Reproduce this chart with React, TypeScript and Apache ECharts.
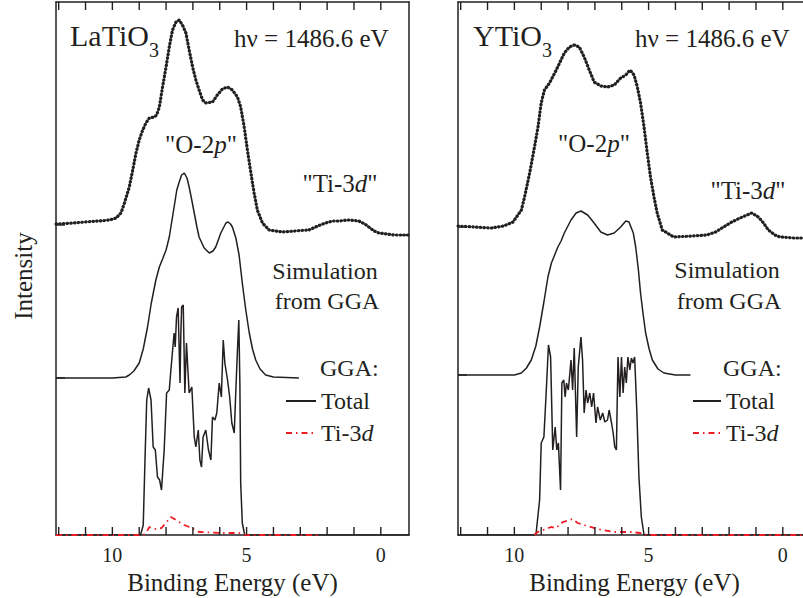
import React, { useEffect, useRef } from 'react';
import * as echarts from 'echarts';

const FONT = '"Liberation Serif", "Times New Roman", serif';
const INK = '#231f20';
const RED = '#ed1c24';

// Binding energy axis
const E_MIN = -1.05;
const E_MAX = 12.1;
const I_MAX = 533;
const xTickValues = [0, 1, 2, 3, 4, 5, 6, 7, 8, 9, 10, 11, 12];
const xLabelValues = [0, 5, 10];

// ---------- LaTiO3 ----------
const laXpsE = [12.1, 11.5, 11.0, 10.5, 10.1, 9.86, 9.68, 9.55, 9.37, 9.24, 9.12, 9.0, 8.87, 8.75, 8.62, 8.44, 8.35, 8.25, 8.13, 8.0, 7.88, 7.76, 7.63, 7.51, 7.39, 7.26, 7.14, 7.01, 6.89, 6.77, 6.64, 6.52, 6.27, 6.09, 5.9, 5.71, 5.53, 5.34, 5.22, 5.09, 4.97, 4.84, 4.72, 4.6, 4.41, 4.16, 3.67, 3.2, 2.68, 2.35, 2.06, 1.8, 1.56, 1.2, 0.82, 0.6, 0.45, 0.25, 0.07, -0.5, -1.05];
const laXpsI = [311, 312, 313, 314, 315, 317, 322, 332, 348, 365, 382, 395, 405, 412, 417, 418, 420, 428, 448, 468, 488, 505, 513, 515, 510, 502, 485, 468, 455, 445, 435, 432, 433, 440, 446, 448, 445, 438, 428, 408, 385, 362, 342, 325, 312, 305, 303, 304, 305, 309, 312, 314, 314, 315, 314, 311, 308, 304, 302, 300, 300];

const laSimE = [12.1, 10.0, 9.5, 9.37, 9.2, 9.0, 8.85, 8.69, 8.55, 8.38, 8.25, 8.13, 8.0, 7.88, 7.76, 7.7, 7.6, 7.51, 7.42, 7.32, 7.22, 7.14, 7.05, 6.95, 6.85, 6.77, 6.58, 6.39, 6.25, 6.15, 5.96, 5.77, 5.69, 5.6, 5.53, 5.4, 5.28, 5.16, 5.03, 4.9, 4.78, 4.66, 4.5, 4.29, 4.0, 3.05];
const laSimI = [157, 157, 158, 160, 164, 172, 186, 208, 232, 255, 268, 276, 285, 298, 318, 328, 345, 353, 360, 362, 357, 348, 336, 322, 308, 298, 287, 282, 284, 288, 302, 312, 313, 311, 308, 297, 280, 252, 225, 202, 186, 175, 166, 160, 158, 157];

const laTotE = [12.1, 8.95, 8.85, 8.78, 8.72, 8.65, 8.56, 8.48, 8.4, 8.32, 8.24, 8.17, 8.07, 7.98, 7.88, 7.82, 7.7, 7.66, 7.61, 7.55, 7.48, 7.45, 7.42, 7.36, 7.3, 7.24, 7.14, 7.04, 6.95, 6.89, 6.8, 6.74, 6.68, 6.62, 6.52, 6.42, 6.33, 6.27, 6.18, 6.11, 6.02, 5.94, 5.87, 5.81, 5.71, 5.63, 5.55, 5.46, 5.4, 5.34, 5.29, 5.25, 5.22, 5.16, 5.07, -1.05];
const laTotI = [0, 0, 10, 80, 135, 147, 135, 88, 85, 58, 55, 45, 85, 142, 145, 165, 202, 188, 218, 227, 152, 200, 228, 230, 142, 192, 142, 148, 98, 88, 105, 75, 68, 98, 105, 85, 75, 118, 115, 122, 152, 138, 195, 172, 155, 138, 112, 102, 145, 185, 215, 152, 52, 12, 0, 0];

const laTiE = [12.1, 8.85, 8.75, 8.62, 8.38, 8.17, 7.82, 7.51, 7.32, 7.14, 6.77, 5.9, 5.28, 5.03, 2.3];
const laTiI = [0, 0, 2, 8, 6, 7, 18, 13, 10, 8, 3, 2, 2, 0, 0];

// ---------- YTiO3 ----------
const yXpsE = [12.1, 11.5, 10.85, 10.4, 10.05, 9.74, 9.62, 9.43, 9.25, 9.12, 9.0, 8.88, 8.69, 8.44, 8.14, 7.95, 7.77, 7.58, 7.4, 7.21, 7.03, 6.78, 6.53, 6.28, 6.04, 5.85, 5.69, 5.54, 5.42, 5.3, 5.17, 5.05, 4.93, 4.8, 4.68, 4.49, 4.06, 3.4, 2.83, 2.5, 2.21, 1.9, 1.59, 1.16, 0.91, 0.72, 0.54, 0.3, 0.11, -0.4, -1.05];
const yXpsI = [309, 308, 307, 309, 313, 325, 338, 362, 388, 408, 432, 445, 452, 465, 482, 488, 490, 488, 478, 465, 453, 449, 448, 450, 457, 460, 465, 460, 448, 432, 408, 382, 358, 338, 322, 305, 298, 299, 300, 303, 308, 313, 317, 322, 318, 312, 305, 300, 298, 297, 297];

const ySimE = [12.1, 10.0, 9.74, 9.55, 9.37, 9.2, 9.06, 8.9, 8.75, 8.62, 8.5, 8.38, 8.26, 8.14, 7.89, 7.7, 7.52, 7.27, 7.03, 6.78, 6.53, 6.28, 6.04, 5.85, 5.73, 5.57, 5.48, 5.38, 5.3, 5.2, 5.11, 4.98, 4.86, 4.65, 4.43, 4.0, 3.44];
const ySimI = [160, 160, 162, 167, 175, 189, 208, 233, 258, 272, 280, 288, 294, 302, 315, 322, 324, 320, 312, 303, 300, 302, 308, 314, 313, 302, 288, 265, 242, 220, 202, 186, 175, 166, 162, 160, 160];

const yTotE = [12.1, 9.25, 9.19, 9.06, 9.0, 8.9, 8.81, 8.73, 8.65, 8.57, 8.48, 8.42, 8.36, 8.28, 8.23, 8.16, 8.11, 8.06, 7.99, 7.89, 7.83, 7.77, 7.68, 7.62, 7.52, 7.46, 7.4, 7.33, 7.27, 7.19, 7.12, 7.05, 6.96, 6.9, 6.8, 6.71, 6.63, 6.53, 6.47, 6.38, 6.32, 6.26, 6.2, 6.14, 6.07, 6.01, 5.95, 5.89, 5.83, 5.77, 5.7, 5.64, 5.58, 5.52, 5.44, 5.36, 5.27, 5.17, -1.05];
const yTotI = [0, 0, 2, 35, 92, 98, 145, 190, 178, 85, 108, 85, 92, 45, 152, 155, 138, 152, 145, 175, 145, 187, 98, 168, 198, 175, 122, 145, 132, 142, 128, 142, 112, 128, 115, 122, 113, 115, 125, 112, 102, 88, 85, 178, 138, 178, 142, 168, 152, 178, 165, 177, 172, 178, 125, 58, 18, 0, 0];

const yTiE = [9.25, 9.13, 8.63, 8.44, 8.19, 7.83, 7.64, 7.4, 6.9, 6.28, 5.67, 5.3, 5.05, -1.05];
const yTiI = [0, 3, 8, 7, 13, 16, 12, 10, 6, 3, 3, 2, 0, 0];

// baseline markers on the intensity axes
const laYTicksLeft = [157, 310];
const laYTicksRight = [300];
const yYTicksLeft = [160, 308];

const zip = (xs: number[], ys: number[]) => xs.map((x, i) => [x, ys[i]]);

// inward tick marks, drawn as thin rect symbols placed through the axes' scales
const TICK_LEN = 8;
const tickMarks = (axis: number, data: number[][], size: number[], offset: number[]) => ({
  type: 'scatter',
  xAxisIndex: axis,
  yAxisIndex: axis,
  data,
  symbol: 'rect',
  symbolSize: size,
  symbolOffset: offset,
  clip: false,
  silent: true,
  z: 6,
  itemStyle: { color: INK, opacity: 1 },
  emphasis: { disabled: true },
});

const tickSeriesFor = (axis: number, left: number[], right: number[]) => [
  tickMarks(axis, xTickValues.map((v) => [v, 0]), [1.4, TICK_LEN], [0, -TICK_LEN / 2]),
  tickMarks(axis, xTickValues.map((v) => [v, I_MAX]), [1.4, TICK_LEN], [0, TICK_LEN / 2]),
  tickMarks(axis, left.map((v) => [E_MAX, v]), [TICK_LEN + 1, 1.4], [(TICK_LEN + 1) / 2, 0]),
  tickMarks(axis, right.map((v) => [E_MIN, v]), [TICK_LEN + 1, 1.4], [-(TICK_LEN + 1) / 2, 0]),
];

const xAxisBase = (gridIndex: number, position: 'bottom' | 'top', labels: boolean) => ({
  type: 'value',
  gridIndex,
  position,
  min: E_MIN,
  max: E_MAX,
  inverse: true,
  axisLine: { show: true, onZero: false, lineStyle: { color: INK, width: 1.5 } },
  axisTick: { show: false },
  axisLabel: labels
    ? { show: true, customValues: xLabelValues, color: INK, fontFamily: FONT, fontSize: 20, margin: 10 }
    : { show: false },
  splitLine: { show: false },
  name: labels ? 'Binding Energy (eV)' : '',
  nameLocation: 'middle',
  nameGap: 33,
  nameTextStyle: { color: INK, fontFamily: FONT, fontSize: 25 },
});

const yAxisBase = (gridIndex: number, position: 'left' | 'right') => ({
  type: 'value',
  gridIndex,
  position,
  min: 0,
  max: I_MAX,
  axisLine: { show: true, onZero: false, lineStyle: { color: INK, width: 1.5 } },
  axisTick: { show: false },
  axisLabel: { show: false },
  splitLine: { show: false },
});

const richItalic = (size: number) => ({
  i: { fontStyle: 'italic', fontSize: size, fontFamily: FONT, fill: INK },
});

const txt = (x: number, y: number, text: string, size: number, align = 'left', rich?: any, extra: any = {}) => ({
  type: 'text',
  x,
  y,
  ...extra,
  style: {
    text,
    fill: INK,
    fontSize: size,
    fontFamily: FONT,
    align,
    verticalAlign: 'middle',
    ...(rich ? { rich } : {}),
  },
});

const formula = (x: number, main: string) => ({
  type: 'text',
  x,
  y: 20,
  style: {
    text: `{m|${main}}{s|3}`,
    fill: INK,
    align: 'left',
    verticalAlign: 'top',
    rich: {
      m: { fontSize: 30, fontFamily: FONT, fill: INK, lineHeight: 30, verticalAlign: 'top' },
      s: { fontSize: 20, fontFamily: FONT, fill: INK, lineHeight: 20, padding: [20, 0, 0, 0], verticalAlign: 'top' },
    },
  },
});

const legendFor = (left: number, itemWidth: number) => ({
  show: true,
  left,
  top: 384,
  orient: 'vertical',
  itemWidth,
  itemHeight: 14,
  itemGap: 8,
  selectedMode: false,
  itemStyle: { opacity: 0 },
  data: ['Total', 'Ti-3d'],
  formatter: (name: string) => (name === 'Ti-3d' ? 'Ti-3{i|d}' : name),
  textStyle: {
    color: INK,
    fontFamily: FONT,
    fontSize: 24,
    lineHeight: 24,
    rich: { i: { fontStyle: 'italic', fontSize: 24, fontFamily: FONT, color: INK, lineHeight: 24 } },
  },
});

const lineSeries = (name: string, data: number[][], axis: number, style: any, z = 2) => ({
  type: 'line',
  name,
  xAxisIndex: axis,
  yAxisIndex: axis,
  data,
  symbol: 'none',
  showSymbol: false,
  smooth: false,
  z,
  color: style.color,
  itemStyle: { color: style.color },
  lineStyle: style,
  emphasis: { disabled: true },
});

const xpsStyle = { color: INK, width: 3.2, type: [0.5, 3.2], cap: 'round' };
const simStyle = { color: INK, width: 1.5 };
const totStyle = { color: INK, width: 1.5 };
const tiStyle = { color: RED, width: 1.8, type: [6, 4, 1.5, 4] };

const option: any = {
  animation: false,
  backgroundColor: '#ffffff',
  grid: [
    { left: 56, top: 2, width: 353, height: 533, containLabel: false, outerBoundsMode: 'none' },
    { left: 458, top: 2, width: 353, height: 533, containLabel: false, outerBoundsMode: 'none' },
  ],
  xAxis: [
    xAxisBase(0, 'bottom', true),
    xAxisBase(0, 'top', false),
    xAxisBase(1, 'bottom', true),
    xAxisBase(1, 'top', false),
  ],
  yAxis: [
    yAxisBase(0, 'left'),
    yAxisBase(0, 'right'),
    yAxisBase(1, 'left'),
    yAxisBase(1, 'right'),
  ],
  legend: [legendFor(280, 30), legendFor(687, 28)],
  series: [
    lineSeries('LaTiO3 XPS', zip(laXpsE, laXpsI), 0, xpsStyle),
    lineSeries('Simulation', zip(laSimE, laSimI), 0, simStyle),
    lineSeries('Total', zip(laTotE, laTotI), 0, totStyle),
    lineSeries('Ti-3d', zip(laTiE, laTiI), 0, tiStyle, 3),
    lineSeries('YTiO3 XPS', zip(yXpsE, yXpsI), 2, xpsStyle),
    lineSeries('Simulation Y', zip(ySimE, ySimI), 2, simStyle),
    lineSeries('Total', zip(yTotE, yTotI), 2, totStyle),
    lineSeries('Ti-3d', zip(yTiE, yTiI), 2, tiStyle, 3),
    ...tickSeriesFor(0, laYTicksLeft, laYTicksRight),
    ...tickSeriesFor(2, yYTicksLeft, []),
  ],
  graphic: [
    txt(23, 276, 'Intensity', 25, 'center', undefined, { rotation: Math.PI / 2 }),
    formula(70, 'LaTiO'),
    txt(234, 38, 'hν = 1486.6 eV', 25),
    txt(201, 144, '"O-2{i|p}"', 25, 'center', richItalic(25)),
    txt(340, 183, '"Ti-3{i|d}"', 25, 'center', richItalic(25)),
    txt(325, 271, 'Simulation', 24, 'center'),
    txt(327, 301, 'from GGA', 24, 'center'),
    txt(320, 368, 'GGA:', 24),
    formula(473, 'YTiO'),
    txt(635, 38, 'hν = 1486.6 eV', 25),
    txt(594, 143, '"O-2{i|p}"', 25, 'center', richItalic(25)),
    txt(748, 190, '"Ti-3{i|d}"', 25, 'center', richItalic(25)),
    txt(727, 270, 'Simulation', 24, 'center'),
    txt(729, 301, 'from GGA', 24, 'center'),
    txt(723, 368, 'GGA:', 24),
  ],
};

export default function App() {
  const ref = useRef<HTMLDivElement>(null);
  useEffect(() => {
    if (!ref.current) return;
    const chart = echarts.init(ref.current, null, { renderer: 'svg' });
    chart.setOption(option);
    return () => chart.dispose();
  }, []);
  return (
    <div
      ref={ref}
      style={{ position: 'absolute', left: 0, top: 0, width: 803, height: 598, background: '#fff' }}
    />
  );
}
